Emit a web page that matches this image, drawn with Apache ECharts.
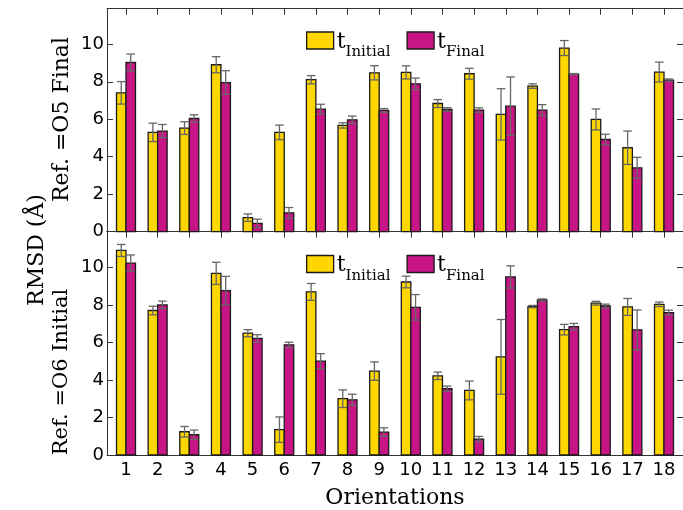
<!DOCTYPE html>
<html>
<head>
<meta charset="utf-8">
<script src="https://cdn.jsdelivr.net/npm/echarts@6/dist/echarts.min.js"></script>
<style>
html,body{margin:0;padding:0;background:#fff;}
#chart{width:683px;height:510px;}
</style>
</head>
<body>
<div id="chart"></div>
<script>
// ---- data ----
var categories = [1,2,3,4,5,6,7,8,9,10,11,12,13,14,15,16,17,18];
var yTicks = [0,2,4,6,8,10];
var o5Initial    = [7.41,5.30,5.53,8.91,0.75,5.30,8.11,5.67,8.48,8.50,6.84,8.43,6.26,7.77,9.80,5.99,4.48,8.52];
var o5InitialErr = [0.60,0.49,0.34,0.43,0.20,0.39,0.22,0.14,0.38,0.35,0.21,0.29,1.37,0.12,0.40,0.56,0.89,0.53];
var o5Final      = [9.03,5.37,6.04,7.96,0.44,1.00,6.54,5.97,6.47,7.89,6.52,6.49,6.70,6.49,8.41,4.92,3.41,8.09];
var o5FinalErr   = [0.45,0.35,0.20,0.63,0.23,0.29,0.26,0.20,0.10,0.31,0.10,0.12,1.56,0.29,0.03,0.28,0.56,0.06];
var o6Initial    = [10.90,7.70,1.24,9.68,6.49,1.35,8.69,3.00,4.47,9.22,4.22,3.44,5.23,7.91,6.68,8.09,7.89,8.03];
var o6InitialErr = [0.32,0.23,0.28,0.59,0.19,0.68,0.45,0.47,0.49,0.31,0.20,0.50,1.99,0.06,0.28,0.10,0.45,0.12];
var o6Final      = [10.23,8.00,1.08,8.76,6.21,5.87,5.00,2.94,1.22,7.87,3.53,0.85,9.49,8.26,6.84,7.94,6.67,7.59];
var o6FinalErr   = [0.43,0.20,0.25,0.76,0.20,0.14,0.40,0.30,0.23,0.68,0.14,0.14,0.59,0.06,0.17,0.10,1.06,0.13];

var YELLOW = '#FFD700', MAGENTA = '#C71585';
var BAR_W = 0.3;

function rows(vals, errs){
  return categories.map(function(c,i){ return [c, vals[i], errs[i]]; });
}

function barItem(offset, color){
  return function(params, api){
    var x = api.value(0), y = api.value(1);
    var p0 = api.coord([x + offset, 0]);
    var p1 = api.coord([x + offset + BAR_W, y]);
    return {type:'rect',
      shape:{x:p0[0], y:p1[1], width:p1[0]-p0[0], height:p0[1]-p1[1]},
      style:{fill:color, stroke:'#1a1a1a', lineWidth:1.3}};
  };
}
function errItem(offset){
  return function(params, api){
    var x = api.value(0) + offset + BAR_W/2, y = api.value(1), e = api.value(2);
    var hi = api.coord([x, y+e]), lo = api.coord([x, y-e]);
    var cw = 4.3;
    var st = {stroke:'#666', lineWidth:1.3};
    return {type:'group', children:[
      {type:'line', shape:{x1:hi[0],y1:hi[1],x2:lo[0],y2:lo[1]}, style:st},
      {type:'line', shape:{x1:hi[0]-cw,y1:hi[1],x2:hi[0]+cw,y2:hi[1]}, style:st},
      {type:'line', shape:{x1:lo[0]-cw,y1:lo[1],x2:lo[0]+cw,y2:lo[1]}, style:st}
    ]};
  };
}

var lineSt = {color:'#333', width:1};
function xAx(gi, pos, showLabel){
  return {type:'value', gridIndex:gi, position:pos, min:0.4, max:18.6,
    axisLine:{show:true, onZero:false, lineStyle:lineSt},
    axisTick:{show:true, inside:true, length:6, lineStyle:lineSt, customValues:categories},
    axisLabel:{show:showLabel, customValues:categories, margin:6, color:'#000',
      fontFamily:'DejaVu Sans', fontSize:18},
    splitLine:{show:false}};
}
function yAx(gi, pos, showLabel){
  return {type:'value', gridIndex:gi, position:pos, min:0, max:11.9,
    axisLine:{show:true, lineStyle:lineSt},
    axisTick:{show:true, inside:true, length:6, lineStyle:lineSt, customValues:yTicks},
    axisLabel:{show:showLabel, customValues:yTicks, margin:3, color:'#000',
      fontFamily:'DejaVu Sans', fontSize:18},
    splitLine:{show:false}};
}

var xAxes = [xAx(0,'bottom',false), xAx(0,'top',false), xAx(1,'bottom',true), xAx(1,'top',false)];
xAxes[2].name = 'Orientations';
xAxes[2].nameLocation = 'middle';
xAxes[2].nameGap = 32;
xAxes[2].nameTextStyle = {fontFamily:'DejaVu Serif', fontSize:22, color:'#000'};
var yAxes = [yAx(0,'left',true), yAx(0,'right',false), yAx(1,'left',true), yAx(1,'right',false)];

function panelSeries(gi, ini, iniE, fin, finE){
  var xi = gi*2, yi = gi*2;
  return [
    {type:'custom', name:'Initial', xAxisIndex:xi, yAxisIndex:yi, renderItem:barItem(-BAR_W, YELLOW),
      itemStyle:{color:YELLOW}, data:rows(ini, iniE), encode:{x:0,y:1}, z:2},
    {type:'custom', name:'Final', xAxisIndex:xi, yAxisIndex:yi, renderItem:barItem(0, MAGENTA),
      itemStyle:{color:MAGENTA}, data:rows(fin, finE), encode:{x:0,y:1}, z:2},
    {type:'custom', name:'errI'+gi, xAxisIndex:xi, yAxisIndex:yi, renderItem:errItem(-BAR_W),
      data:rows(ini, iniE), encode:{x:0,y:[1]}, z:3, silent:true},
    {type:'custom', name:'errF'+gi, xAxisIndex:xi, yAxisIndex:yi, renderItem:errItem(0),
      data:rows(fin, finE), encode:{x:0,y:[1]}, z:3, silent:true}
  ];
}

var rich = {
  t:{fontFamily:'DejaVu Serif', fontSize:22, color:'#000', verticalAlign:'bottom', padding:[0,0,7,0]},
  s:{fontFamily:'DejaVu Serif', fontSize:15, color:'#000', verticalAlign:'bottom'}
};
function legendAt(top){
  return {show:true, left:301, top:top, orient:'horizontal', itemWidth:27, itemHeight:17, itemGap:16,
    selectedMode:false,
    data:[
      {name:'Initial', icon:'rect', itemStyle:{color:YELLOW, borderColor:'#1a1a1a', borderWidth:1.3}},
      {name:'Final', icon:'rect', itemStyle:{color:MAGENTA, borderColor:'#1a1a1a', borderWidth:1.3}}
    ],
    formatter:function(n){ return '{t|t}{s|' + n + '}'; },
    textStyle:{rich:rich, padding:[10,0,0,-2]}
  };
}

var chart = echarts.init(document.getElementById('chart'), null, {renderer:'canvas'});
chart.setOption({
  animation:false,
  backgroundColor:'#fff',
  grid:[
    {left:107, top:8.7, width:580, height:223},
    {left:107, top:231.7, width:580, height:224}
  ],
  xAxis:xAxes,
  yAxis:yAxes,
  legend:[legendAt(26), legendAt(249.5)],
  series:[].concat(
    panelSeries(0, o5Initial, o5InitialErr, o5Final, o5FinalErr),
    panelSeries(1, o6Initial, o6InitialErr, o6Final, o6FinalErr)
  ),
  graphic:[
    {type:'text', x:37, y:250, rotation:Math.PI/2,
      style:{text:'RMSD (Å)', fontFamily:'DejaVu Serif', fontSize:22, fill:'#000', align:'center', verticalAlign:'middle'}},
    {type:'text', x:62, y:119.5, rotation:Math.PI/2,
      style:{text:'Ref. =O5 Final', fontFamily:'DejaVu Serif', fontSize:22, fill:'#000', align:'center', verticalAlign:'middle'}},
    {type:'text', x:62, y:372, rotation:Math.PI/2,
      style:{text:'Ref. =O6 Initial', fontFamily:'DejaVu Serif', fontSize:21, fill:'#000', align:'center', verticalAlign:'middle'}}
  ]
});
</script>
</body>
</html>
